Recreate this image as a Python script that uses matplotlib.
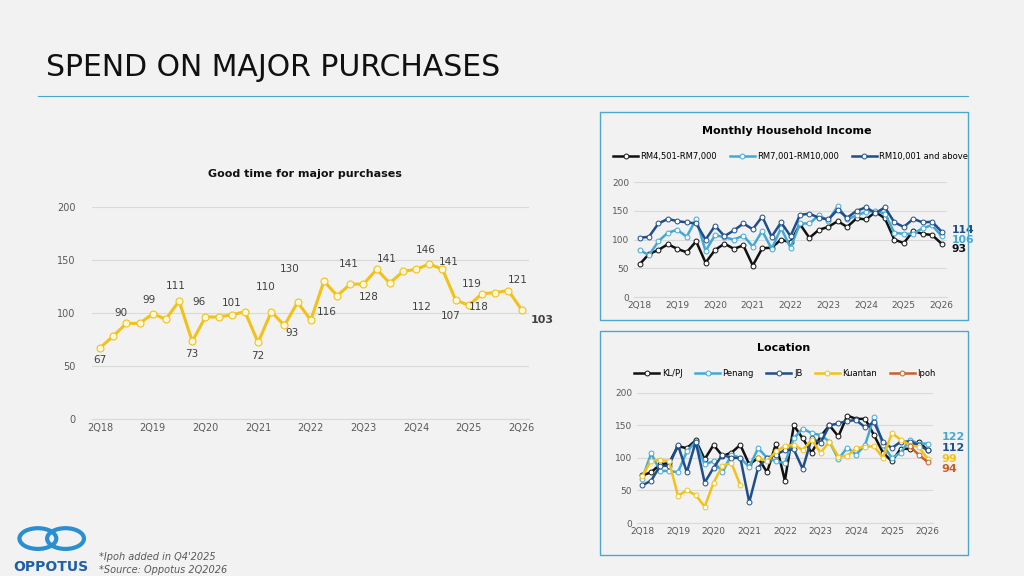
import numpy as np
import matplotlib.pyplot as plt
from matplotlib.patches import Rectangle, Circle
from matplotlib.lines import Line2D

periods = []
q, y = 2, 18
for i in range(33):
    periods.append(f"{q}Q{y}")
    q += 1
    if q > 4:
        q, y = 1, y + 1
tick_labels = ["2Q18","2Q19","2Q20","2Q21","2Q22","2Q23","2Q24","2Q25","2Q26"]

good_time = [67,78,90,90,99,94,111,73,96,96,98,101,72,101,88,110,93,130,116,127,127,141,128,139,141,146,141,112,107,118,119,121,103]
labeled_idx = [0,2,4,6,7,8,11,12,15,17,16,18,21,22,24,25,26,27,28,30,29,31]
label_xy = [(0,55),(1.6,100),(3.7,112),(5.75,125),(6.95,61),(7.5,110),(10,109),(11.95,59),(12.6,124),
            (14.4,141),(14.6,81),(17.2,101),(18.9,146),(20.4,115),(21.75,151),(24.7,159),(26.45,148),
            (24.4,105),(26.6,97),(28.25,127),(28.75,105),(31.7,131)]

inc_low = [57,75,82,92,84,78,97,60,82,93,84,90,55,85,86,100,95,127,103,117,122,132,122,137,135,148,137,100,94,115,110,108,93]
inc_mid = [82,73,97,112,117,105,136,80,108,104,100,107,88,115,84,120,86,128,128,142,133,158,135,142,148,150,145,112,110,110,120,125,106]
inc_high = [103,105,128,136,132,130,128,100,124,106,116,128,118,140,105,130,106,143,145,138,135,152,138,150,156,146,156,130,122,136,130,131,114]
inc_names = ["RM4,501-RM7,000","RM7,001-RM10,000","RM10,001 and above"]

klpj = [73,78,90,92,118,115,127,98,120,103,108,120,90,100,78,122,65,150,130,108,133,150,133,165,160,160,135,108,95,114,114,125,112]
penang = [68,107,80,80,78,110,125,90,95,78,105,100,86,115,100,95,92,130,145,138,135,125,98,116,105,120,163,120,100,108,128,122,122]
jb = [58,65,88,88,120,78,125,62,85,105,100,100,32,85,100,105,112,113,83,130,123,150,153,157,158,147,155,125,115,125,125,120,112]
kuantan = [72,96,97,95,42,50,43,25,62,88,92,58,np.nan,100,95,110,118,120,112,128,108,125,102,103,115,117,118,100,138,128,120,117,99]
ipoh = [np.nan]*30 + [118,105,94]
loc_names = ["KL/PJ","Penang","JB","Kuantan","Ipoh"]

BG = '#f2f2f2'
fig = plt.figure(figsize=(10.24,5.76), dpi=100, facecolor=BG)
fig.text(0.045, 0.868, "SPEND ON MAJOR PURCHASES", fontsize=21.5, color='#111111')
fig.add_artist(Line2D([0.037,0.945],[0.833,0.833], color='#4aa8d0', lw=0.8))

x = np.arange(33)
tick_pos = [periods.index(t) for t in tick_labels]

def style(ax, fs=7):
    ax.set_facecolor(BG)
    ax.set_ylim(0,200)
    ax.set_yticks([0,50,100,150,200])
    ax.set_xticks(tick_pos)
    ax.set_xticklabels(tick_labels)
    ax.tick_params(labelsize=fs, colors='#595959', length=0)
    ax.tick_params(axis='x', pad=3)
    ax.grid(axis='y', color='#d9d9d9', lw=0.8)
    ax.set_axisbelow(True)
    for s in ['top','right','left']:
        ax.spines[s].set_visible(False)
    ax.spines['bottom'].set_color('#d9d9d9')
    ax.set_xlim(-0.6, 32.6)

# main chart
ax = fig.add_axes([0.090, 0.273, 0.427, 0.368])
style(ax, 7)
ax.tick_params(axis='y', pad=12)
ax.plot(x, good_time, color='#f2c218', lw=2.2, marker='o', ms=5, mfc='#fff8dc', mec='#f2c218', mew=0.8)
for i, (lx, ly) in zip(labeled_idx, label_xy):
    ax.text(lx, ly, str(good_time[i]), ha='center', va='center', fontsize=7.5, color='#404040')
ax.text(32.7, 93, str(good_time[32]), ha='left', va='center', fontsize=8, fontweight='bold', color='#404040')
fig.text(0.298, 0.693, "Good time for major purchases", ha='center', fontsize=8, fontweight='bold', color='#111111')

# right panel 1
fig.add_artist(Rectangle((0.586,0.444),0.359,0.362, transform=fig.transFigure, fill=False, ec='#4aa8d0', lw=1))
fig.text(0.768, 0.768, "Monthly Household Income", ha='center', fontsize=8, fontweight='bold')
ax2 = fig.add_axes([0.619, 0.484, 0.306, 0.20])
style(ax2, 6.5)
cols = ['#111111', '#41a9d8', '#1f4e8c']
for d, c, n in zip([inc_low, inc_mid, inc_high], cols, inc_names):
    ax2.plot(x, d, color=c, lw=1.8, marker='o', ms=3.5, mfc='white', mec=c, mew=0.7, label=n)
for d, c, yy in zip([inc_high, inc_mid, inc_low], cols[::-1], [116, 100, 84]):
    ax2.text(33.1, yy, str(d[-1]), va='center', fontsize=7.8, fontweight='bold', color=c, clip_on=False)
ax2.legend(loc='center', bbox_to_anchor=(0.5, 1.0 + (0.729-0.684)/0.2), ncol=3, frameon=False, fontsize=6,
           handlelength=3, columnspacing=1.5, handletextpad=0.3)

# right panel 2
fig.add_artist(Rectangle((0.586,0.036),0.359,0.39, transform=fig.transFigure, fill=False, ec='#4aa8d0', lw=1))
fig.text(0.765, 0.39, "Location", ha='center', fontsize=8, fontweight='bold')
ax3 = fig.add_axes([0.622, 0.092, 0.289, 0.226])
style(ax3, 6.5)
lcols = ['#111111', '#41a9d8', '#1f4e8c', '#f2c218', '#c8602a']
for d, c, n in zip([klpj, penang, jb, kuantan, ipoh], lcols, loc_names):
    ax3.plot(x, d, color=c, lw=1.8, marker='o', ms=3.5, mfc='white', mec=c, mew=0.7, label=n)
for val, c, yy in [(penang[-1], lcols[1], 132), (jb[-1], lcols[2], 116), (kuantan[-1], lcols[3], 99), (ipoh[-1], lcols[4], 83)]:
    ax3.text(33.6, yy, str(val), va='center', fontsize=8, fontweight='bold', color=c, clip_on=False)
ax3.legend(loc='center', bbox_to_anchor=(0.5, 1.0 + (0.352-0.318)/0.226), ncol=5, frameon=False, fontsize=6,
           handlelength=3, columnspacing=1.5, handletextpad=0.3)

# logo & notes
fig.add_artist(Circle((0.037, 0.065), 0.018, transform=fig.transFigure, fill=False, ec='#2a8fd0', lw=3))
fig.add_artist(Circle((0.064, 0.065), 0.018, transform=fig.transFigure, fill=False, ec='#2a8fd0', lw=3))
fig.text(0.05, 0.008, "OPPOTUS", ha='center', fontsize=10, fontweight='bold', color='#1f5fa8')
fig.text(0.097, 0.028, "*Ipoh added in Q4'2025", fontsize=7, style='italic', color='#595959')
fig.text(0.097, 0.005, "*Source: Oppotus 2Q2026", fontsize=7, style='italic', color='#595959')

fig.savefig("out.png", dpi=100, facecolor=BG)
